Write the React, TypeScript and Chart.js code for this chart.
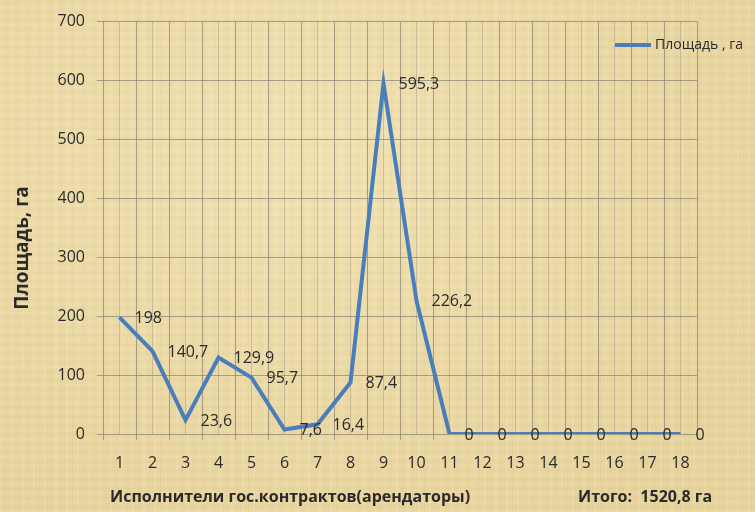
import React, { useEffect, useRef } from "react";
import { Chart, registerables } from "chart.js";

Chart.register(...registerables);

const categories = ["1", "2", "3", "4", "5", "6", "7", "8", "9", "10", "11", "12", "13", "14", "15", "16", "17", "18"];
const areaValues = [198, 140.7, 23.6, 129.9, 95.7, 7.6, 16.4, 87.4, 595.3, 226.2, 0, 0, 0, 0, 0, 0, 0, 0];
const yTickValues = [0, 100, 200, 300, 400, 500, 600, 700];
const seriesName = "Площадь , га";
const yTitle = "Площадь, га";
const xTitle = "Исполнители гос.контрактов(арендаторы)";
const totalText = "Итого:  1520,8 га";

const FONT = "'Open Sans', 'Noto Sans', sans-serif";
const LINE_COLOR = "#4A7EBB";
const TEXT_COLOR = "#2a2a2a";
const GRID_MAJOR = "rgba(135,128,115,0.7)";
const GRID_MINOR = "rgba(150,142,128,0.4)";

const fmt = (v: number) => String(v).replace(".", ",");

const textPlugin = {
  id: "extraText",
  afterDatasetsDraw(chart: any) {
    const ctx = chart.ctx;
    const meta = chart.getDatasetMeta(0);
    ctx.save();
    ctx.fillStyle = TEXT_COLOR;
    ctx.font = `16px ${FONT}`;
    ctx.textAlign = "left";
    ctx.textBaseline = "middle";
    meta.data.forEach((pt: any, i: number) => {
      ctx.fillText(fmt(areaValues[i]), pt.x + 15, pt.y + 1);
    });
    ctx.restore();
  },
  afterDraw(chart: any) {
    const ctx = chart.ctx;
    ctx.save();
    ctx.fillStyle = TEXT_COLOR;
    // y title
    ctx.font = `bold 19px ${FONT}`;
    ctx.textAlign = "center";
    ctx.textBaseline = "middle";
    ctx.translate(23, 248);
    ctx.rotate(-Math.PI / 2);
    ctx.fillText(yTitle, 0, 0);
    ctx.setTransform(1, 0, 0, 1, 0, 0);
    // x title
    ctx.font = `bold 16px ${FONT}`;
    ctx.textAlign = "left";
    ctx.fillText(xTitle, 110, 497);
    ctx.fillText(totalText, 578, 497);
    // legend
    ctx.strokeStyle = LINE_COLOR;
    ctx.lineWidth = 4;
    ctx.beginPath();
    ctx.moveTo(615, 45);
    ctx.lineTo(651, 45);
    ctx.stroke();
    ctx.font = `14px ${FONT}`;
    ctx.fillText(seriesName, 655, 45);
    ctx.restore();
  },
};

export default function App() {
  const ref = useRef<HTMLCanvasElement | null>(null);
  useEffect(() => {
    if (!ref.current) return;
    const chart = new Chart(ref.current, {
      type: "line",
      data: {
        datasets: [
          {
            label: seriesName,
            data: areaValues.map((v, i) => ({ x: Number(categories[i]), y: v })),
            borderColor: LINE_COLOR,
            borderWidth: 4,
            pointRadius: 0,
            tension: 0,
            fill: false,
          },
        ],
      },
      options: {
        animation: false,
        responsive: false,
        devicePixelRatio: 1,
        layout: { padding: { top: 20, right: 58, bottom: 0, left: 0 } },
        plugins: { legend: { display: false }, tooltip: { enabled: false } },
        scales: {
          x: {
            type: "linear",
            min: 0.5,
            max: 18.5,
            afterFit: (s: any) => {
              s.height = 78;
            },
            border: { display: false },
            grid: {
              color: (c: any) => (Number.isInteger(c.tick?.value) ? GRID_MINOR : GRID_MAJOR),
              tickColor: (c: any) => (Number.isInteger(c.tick?.value) ? "transparent" : GRID_MAJOR),
              tickLength: 6,
              lineWidth: 1,
            },
            ticks: {
              stepSize: 0.5,
              autoSkip: false,
              maxRotation: 0,
              padding: 14,
              color: TEXT_COLOR,
              font: { family: FONT, size: 16 },
              callback: (v: any) => (Number.isInteger(v) ? categories[v - 1] : ""),
            },
          },
          y: {
            min: yTickValues[0],
            max: yTickValues[yTickValues.length - 1],
            afterFit: (s: any) => {
              s.width = 103;
            },
            afterBuildTicks: (s: any) => {
              s.ticks = yTickValues.map((v) => ({ value: v }));
            },
            border: { display: false },
            grid: { color: GRID_MAJOR, tickColor: GRID_MAJOR, tickLength: 6, lineWidth: 1 },
            ticks: {
              padding: 12,
              color: TEXT_COLOR,
              font: { family: FONT, size: 16 },
            },
          },
        },
      },
      plugins: [textPlugin],
    });
    return () => chart.destroy();
  }, []);

  const bg: React.CSSProperties = {
    position: "fixed",
    left: 0,
    top: 0,
    width: 755,
    height: 512,
    backgroundColor: "#EAD8A4",
    backgroundImage: [
      "repeating-linear-gradient(90deg, rgba(255,248,220,0.12) 0px, rgba(255,248,220,0.12) 2px, transparent 2px, transparent 6px, rgba(170,130,60,0.05) 6px, rgba(170,130,60,0.05) 7px, transparent 7px, transparent 11px)",
      "repeating-linear-gradient(0deg, rgba(255,248,220,0.1) 0px, rgba(255,248,220,0.1) 2px, transparent 2px, transparent 5px, rgba(170,130,60,0.045) 5px, rgba(170,130,60,0.045) 6px, transparent 6px, transparent 9px)",
      "radial-gradient(ellipse at 40% 30%, rgba(255,245,210,0.3), rgba(200,170,100,0.12) 80%)",
    ].join(","),
  };

  return (
    <div style={bg}>
      <canvas ref={ref} width={755} height={512} style={{ display: "block" }} />
    </div>
  );
}
